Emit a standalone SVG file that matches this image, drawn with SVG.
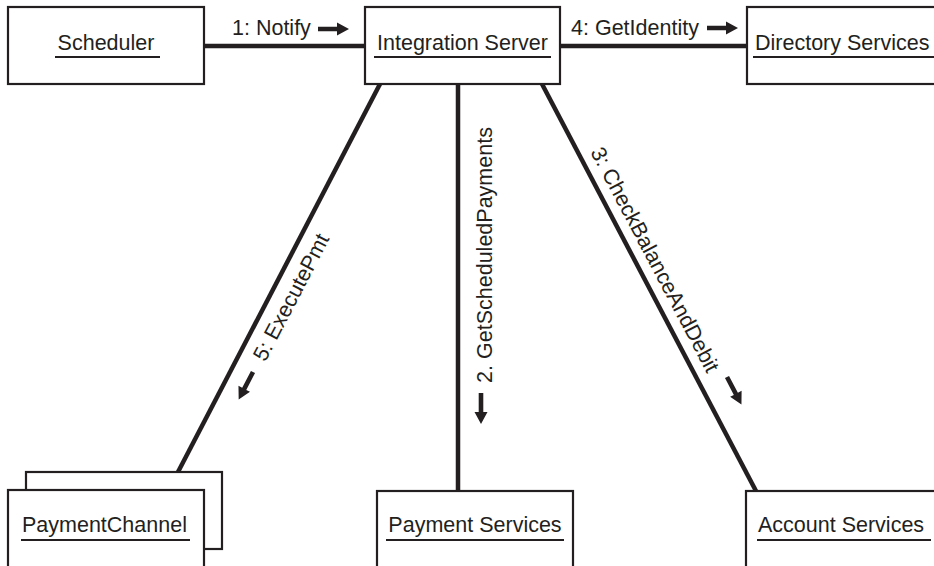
<svg xmlns="http://www.w3.org/2000/svg" width="934" height="566" viewBox="0 0 934 566">
<style>
.box{fill:#fff;stroke:#231f20;stroke-width:2.2}
.ul{stroke:#231f20;stroke-width:2}
.lbl{font-family:"Liberation Sans",Arial,sans-serif;font-size:21.5px;fill:#231f20}
.conn{stroke:#231f20;stroke-width:4.5;fill:none}
.arr{fill:#231f20}
</style>
<defs>
<path id="arrow" d="M0,-2.3 H19 V-6.5 L31,0 L19,6.5 V2.3 H0 Z"/>
</defs>
<rect width="934" height="566" fill="#fff"/>
<g id="connectors">
<line class="conn" x1="204" y1="46" x2="365" y2="46"/>
<line class="conn" x1="560" y1="46" x2="747" y2="46"/>
<line class="conn" x1="380" y1="84" x2="178" y2="472"/>
<line class="conn" x1="458" y1="84" x2="458" y2="491"/>
<line class="conn" x1="542" y1="84" x2="756" y2="491"/>
<text class="lbl" x="232" y="35">1: Notify</text>
<use href="#arrow" class="arr" transform="translate(318,29)"/>
<text class="lbl" x="571" y="35">4: GetIdentity</text>
<use href="#arrow" class="arr" transform="translate(707,28)"/>
<text class="lbl" text-anchor="middle" transform="translate(492,255) rotate(-90)">2. GetScheduledPayments</text>
<use href="#arrow" class="arr" transform="translate(481,393) rotate(90)"/>
<text class="lbl" text-anchor="middle" transform="translate(297.6,300.5) rotate(-62.5)">5: ExecutePmt</text>
<use href="#arrow" class="arr" transform="translate(253,372) rotate(117.5)"/>
<text class="lbl" text-anchor="middle" transform="translate(648.6,263) rotate(62.2)">3: CheckBalanceAndDebit</text>
<use href="#arrow" class="arr" transform="translate(727,377) rotate(62.2)"/>
</g>
<g id="scheduler">
<rect class="box" x="8" y="7" width="196" height="77"/>
<text class="lbl" x="106" y="50" text-anchor="middle">Scheduler</text>
<line class="ul" x1="55" y1="57" x2="160" y2="57"/>
</g>
<g id="integration-server">
<rect class="box" x="365" y="7" width="195" height="77"/>
<text class="lbl" x="462.5" y="50" text-anchor="middle">Integration Server</text>
<line class="ul" x1="374" y1="57" x2="551" y2="57"/>
</g>
<g id="directory-services">
<rect class="box" x="747" y="7" width="200" height="77"/>
<text class="lbl" x="755" y="50">Directory Services</text>
<line class="ul" x1="753" y1="57" x2="934" y2="57"/>
</g>
<g id="payment-channel">
<rect class="box" x="26" y="472" width="196" height="77"/>
<rect class="box" x="8" y="490" width="196" height="90"/>
<text class="lbl" x="22" y="532">PaymentChannel</text>
<line class="ul" x1="21" y1="540" x2="190" y2="540"/>
</g>
<g id="payment-services">
<rect class="box" x="377" y="491" width="196" height="90"/>
<text class="lbl" x="475" y="532" text-anchor="middle">Payment Services</text>
<line class="ul" x1="386" y1="540" x2="564" y2="540"/>
</g>
<g id="account-services">
<rect class="box" x="746" y="491" width="200" height="90"/>
<text class="lbl" x="758" y="532">Account Services</text>
<line class="ul" x1="757" y1="540" x2="931" y2="540"/>
</g>
</svg>
